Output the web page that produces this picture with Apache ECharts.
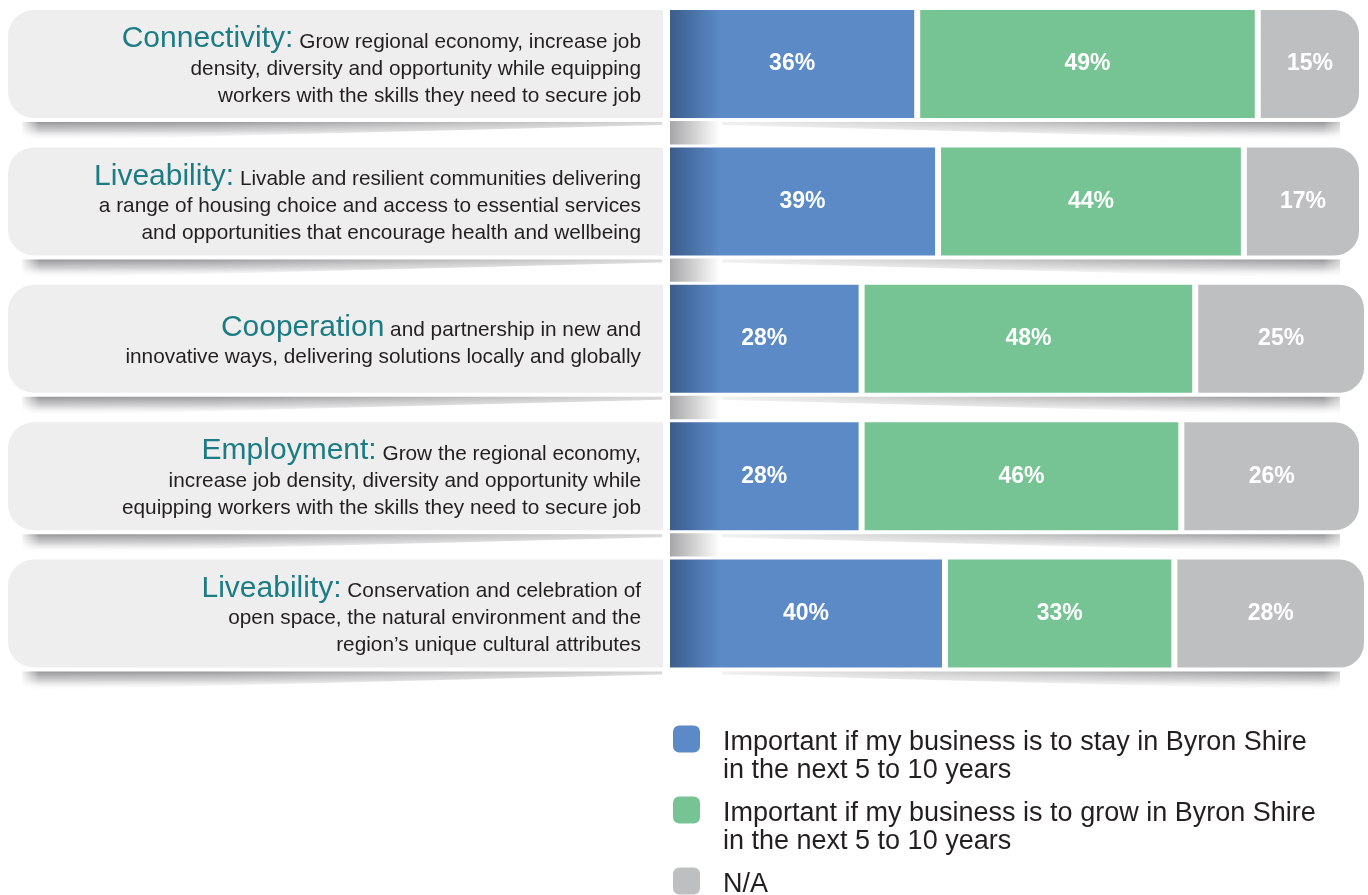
<!DOCTYPE html>
<html>
<head>
<meta charset="utf-8">
<title>Byron Shire business priorities</title>
<script src="https://cdn.jsdelivr.net/npm/echarts@6/dist/echarts.min.js"></script>
<style>
  html, body { margin: 0; padding: 0; background: #ffffff; }
  #chart { width: 1368px; height: 895px; }
</style>
</head>
<body>
<div id="chart"></div>
<script>
// Themes (teal lead-in) and their descriptions, one array entry per row
const rowThemes = ['Connectivity:', 'Liveability:', 'Cooperation', 'Employment:', 'Liveability:'];
const rowDescLines = [
  ['Grow regional economy, increase job',
   'density, diversity and opportunity while equipping',
   'workers with the skills they need to secure job'],
  ['Livable and resilient communities delivering',
   'a range of housing choice and access to essential services',
   'and opportunities that encourage health and wellbeing'],
  ['and partnership in new and',
   'innovative ways, delivering solutions locally and globally'],
  ['Grow the regional economy,',
   'increase job density, diversity and opportunity while',
   'equipping workers with the skills they need to secure job'],
  ['Conservation and celebration of',
   'open space, the natural environment and the',
   'region\u2019s unique cultural attributes']
];

// Survey shares (%) per row
const stayValues = [36, 39, 28, 28, 40];
const growValues = [49, 44, 48, 46, 33];
const naValues   = [15, 17, 25, 26, 28];

const seriesNames = ['stay', 'grow', 'na'];
const legendLines = {
  stay: ['Important if my business is to stay in Byron Shire', 'in the next 5 to 10 years'],
  grow: ['Important if my business is to grow in Byron Shire', 'in the next 5 to 10 years'],
  na: ['N/A']
};

const FONT = "'Liberation Sans', Arial, Helvetica, sans-serif";
const BLUE = '#5b8ac6', GREEN = '#76c494', GRAY = '#bebfc1';
const HALF = 54; // half of the visible bar / panel height

// Legend text: a spacer line above keeps the swatch level with the first line
function legendText(name) {
  const l = legendLines[name];
  return '{s|\u00a0}\n{m|' + l[0] + '}\n{m|' + (l[1] || '\u00a0') + '}';
}

const chart = echarts.init(document.getElementById('chart'), null, { renderer: 'canvas' });

// Panel, drop shadows and descriptive text for each row
function renderRow(params, api) {
  const i = params.dataIndex;
  const cy = api.coord([0, i])[1];
  const top = cy - HALF, bottom = cy + HALF;
  const kids = [];
  const LG = echarts.graphic.LinearGradient;
  const shadowFill = () => new LG(0, 0, 0, 1, [
    { offset: 0, color: 'rgba(150,150,152,1)' },
    { offset: 0.45, color: 'rgba(185,185,187,0.7)' },
    { offset: 1, color: 'rgba(255,255,255,0)' }]);

  // shadow under the text panel (thick on the left, thin on the right)
  kids.push({
    type: 'polygon',
    shape: { points: [[22, bottom + 4], [662, bottom + 4], [662, bottom + 7], [22, bottom + 23]] },
    style: { fill: shadowFill() }
  });
  kids.push({
    type: 'rect',
    shape: { x: 20, y: bottom + 2, width: 644, height: 24 },
    style: { fill: new LG(0, 0, 1, 0, [
      { offset: 0, color: 'rgba(255,255,255,1)' },
      { offset: 0.03, color: 'rgba(255,255,255,0)' },
      { offset: 0.3, color: 'rgba(255,255,255,0.05)' },
      { offset: 1, color: 'rgba(255,255,255,0.6)' }]) }
  });
  // shadow under the bars (thin on the left, thick on the right)
  kids.push({
    type: 'polygon',
    shape: { points: [[722, bottom + 4], [1340, bottom + 4], [1340, bottom + 23], [722, bottom + 7]] },
    style: { fill: shadowFill() }
  });
  kids.push({
    type: 'rect',
    shape: { x: 720, y: bottom + 2, width: 622, height: 24 },
    style: { fill: new LG(0, 0, 1, 0, [
      { offset: 0, color: 'rgba(255,255,255,0.85)' },
      { offset: 0.7, color: 'rgba(255,255,255,0.2)' },
      { offset: 0.97, color: 'rgba(255,255,255,0)' },
      { offset: 1, color: 'rgba(255,255,255,0.6)' }]) }
  });
  // folded edge between consecutive bars
  if (i < rowThemes.length - 1) {
    const nextTop = api.coord([0, i + 1])[1] - HALF;
    kids.push({
      type: 'rect',
      shape: { x: 670, y: bottom + 2, width: 50, height: nextTop - bottom - 3 },
      style: { fill: new LG(0, 0, 1, 0, [
        { offset: 0, color: '#a6a6a8' },
        { offset: 1, color: 'rgba(255,255,255,1)' }]) }
    });
  }
  // text panel
  kids.push({
    type: 'rect',
    shape: { x: 8, y: top, width: 655, height: HALF * 2, r: [26, 0, 0, 26] },
    style: { fill: '#eeeeee' }
  });
  // theme + description
  const lines = rowDescLines[i];
  let txt = '{t|' + rowThemes[i] + '}{b| ' + lines[0] + '}';
  for (let k = 1; k < lines.length; k++) txt += '\n{b|' + lines[k] + '}';
  kids.push({
    type: 'text',
    style: {
      text: txt,
      x: 641, y: cy + 5,
      align: 'right', verticalAlign: 'middle',
      rich: {
        t: { fontSize: 30, fontFamily: FONT, fill: '#1b7c84', lineHeight: 27, padding: [0, 0, 6, 0] },
        b: { fontSize: 20.8, fontFamily: FONT, fill: '#231f20', lineHeight: 27 }
      }
    }
  });
  return { type: 'group', children: kids };
}

const valueLabel = {
  show: true,
  position: 'inside',
  formatter: '{c}%',
  color: '#ffffff',
  fontFamily: FONT,
  fontWeight: 'bold',
  fontSize: 23
};

const option = {
  backgroundColor: '#ffffff',
  animation: false,
  grid: { left: 667, width: 698.5, top: -4.7, height: 687, containLabel: false, outerBoundsMode: 'none' },
  xAxis: { type: 'value', min: 0, max: 100.5, show: false },
  yAxis: { type: 'category', inverse: true, data: rowThemes, show: false },
  legend: {
    orient: 'vertical',
    left: 671,
    top: 697.5,
    height: 280,
    padding: 0,
    itemWidth: 29,
    itemHeight: 29,
    itemGap: -16,
    icon: 'roundRect',
    selectedMode: false,
    formatter: legendText,
    textStyle: {
      fontFamily: FONT, fontSize: 27, color: '#231f20', padding: [0, 0, 0, 17],
      rich: {
        s: { fontSize: 27, fontFamily: FONT, lineHeight: 36 },
        m: { fontSize: 27, fontFamily: FONT, lineHeight: 28, color: '#231f20' }
      }
    },
    data: [
      { name: 'stay', itemStyle: { color: BLUE } },
      { name: 'grow', itemStyle: { color: GREEN } },
      { name: 'na', itemStyle: { color: GRAY } }
    ]
  },
  series: [
    {
      type: 'custom',
      z: 1,
      silent: true,
      clip: false,
      renderItem: renderRow,
      encode: { x: 0, y: 1 },
      data: rowThemes.map((_, i) => [0, i])
    },
    {
      name: seriesNames[0], type: 'bar', stack: 'share', barWidth: 114, z: 2,
      itemStyle: {
        color: { type: 'linear', x: 670, y: 0, x2: 720, y2: 0, global: true,
          colorStops: [{ offset: 0, color: '#3c5d8c' }, { offset: 1, color: BLUE }] },
        borderColor: '#ffffff', borderWidth: 3
      },
      label: valueLabel,
      data: stayValues
    },
    {
      name: seriesNames[1], type: 'bar', stack: 'share', barWidth: 114, z: 2,
      itemStyle: { color: GREEN, borderColor: '#ffffff', borderWidth: 3 },
      label: valueLabel,
      data: growValues
    },
    {
      name: seriesNames[2], type: 'bar', stack: 'share', barWidth: 114, z: 2,
      itemStyle: { color: GRAY, borderColor: '#ffffff', borderWidth: 3, borderRadius: [0, 26, 26, 0] },
      label: valueLabel,
      data: naValues
    }
  ]
};

chart.setOption(option);
</script>
</body>
</html>
